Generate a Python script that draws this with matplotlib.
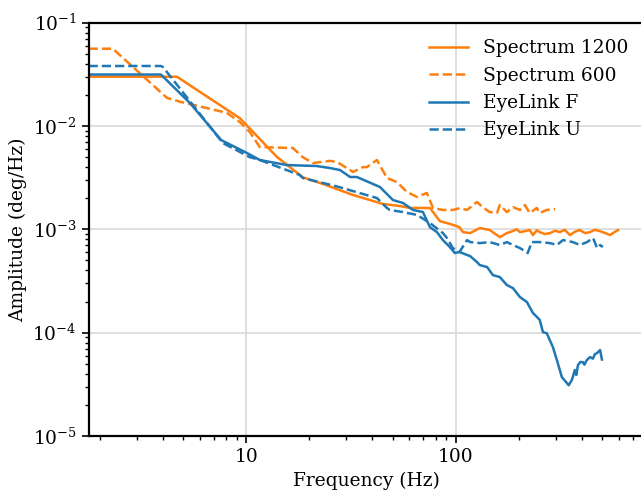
import matplotlib
matplotlib.use('Agg')
import matplotlib.pyplot as plt
from matplotlib.ticker import ScalarFormatter
import numpy as np

# values (Hz, deg/Hz)
spec1200_f = [1.77, 4.67, 9.33, 13.97, 18.6, 23.2, 32.3, 44.9, 54.1, 60.4, 75.2,
              83.9, 93.5, 104, 108, 117, 130, 145, 162, 175, 181, 195, 202, 213,
              225, 233, 243, 251, 266, 281, 297, 313, 330, 350, 370, 390, 412,
              436, 460, 487, 515, 543, 570, 593]
spec1200_a = [3.0e-2, 3.0e-2, 1.19e-2, 5.05e-3, 3.19e-3, 2.75e-3, 2.15e-3, 1.76e-3,
              1.68e-3, 1.61e-3, 1.61e-3, 1.2e-3, 1.13e-3, 1.05e-3, 9.4e-4, 9.2e-4,
              1.03e-3, 9.85e-4, 8.4e-4, 9.2e-4, 9.4e-4, 1.0e-3, 9.4e-4, 9.6e-4,
              9.85e-4, 8.8e-4, 9.8e-4, 9.4e-4, 9.0e-4, 9.2e-4, 9.7e-4, 9.4e-4,
              9.9e-4, 8.8e-4, 9.5e-4, 9.85e-4, 9.2e-4, 9.4e-4, 9.9e-4, 9.6e-4,
              9.2e-4, 8.8e-4, 9.4e-4, 9.85e-4]

spec600_f = [1.77, 2.31, 3.47, 4.19, 4.83, 6.5, 8.09, 9.33, 10.4, 11.6, 16.7,
             18.6, 20.8, 25.1, 27.1, 31.3, 32.3, 36.0, 37.6, 42.0, 46.9, 52.3,
             58.4, 65.2, 72.7, 77.7, 86.7, 96.7, 104, 113, 126, 134, 145, 157,
             162, 175, 187, 202, 213, 225, 243, 251, 271, 297]
spec600_a = [5.6e-2, 5.6e-2, 2.65e-2, 1.87e-2, 1.72e-2, 1.49e-2, 1.34e-2, 1.09e-2,
             8.75e-3, 6.26e-3, 6.12e-3, 5.0e-3, 4.38e-3, 4.6e-3, 4.48e-3, 3.75e-3,
             3.59e-3, 4.0e-3, 4.0e-3, 4.69e-3, 3.14e-3, 2.87e-3, 2.3e-3, 2.06e-3,
             2.25e-3, 1.61e-3, 1.54e-3, 1.54e-3, 1.6e-3, 1.54e-3, 1.84e-3, 1.64e-3,
             1.47e-3, 1.44e-3, 1.72e-3, 1.47e-3, 1.64e-3, 1.54e-3, 1.72e-3, 1.44e-3,
             1.61e-3, 1.44e-3, 1.54e-3, 1.57e-3]

eyef_f = [1.77, 3.92, 5.39, 7.6, 10.08, 11.6, 15.6, 21.7, 25.1, 28.0, 31.3, 33.7,
          43.4, 50.1, 55.9, 62.4, 69.6, 75.2, 81.2, 86.7, 93.5, 98.8, 104, 117,
          126, 130, 141, 150, 162, 175, 187, 202, 218, 233, 251, 260, 271, 290,
          303, 320, 338, 345, 357, 362, 369, 375, 382, 392, 403, 410, 420, 436,
          450, 460, 471, 487, 497]
eyef_a = [3.15e-2, 3.15e-2, 1.67e-2, 7.3e-3, 5.48e-3, 4.69e-3, 4.19e-3, 4.1e-3,
          3.92e-3, 3.75e-3, 3.21e-3, 3.21e-3, 2.57e-3, 1.92e-3, 1.8e-3, 1.54e-3,
          1.47e-3, 1.05e-3, 9.4e-4, 7.87e-4, 6.74e-4, 5.9e-4, 6.03e-4, 5.5e-4,
          4.82e-4, 4.51e-4, 4.31e-4, 3.61e-4, 3.45e-4, 2.89e-4, 2.7e-4, 2.21e-4,
          1.98e-4, 1.55e-4, 1.33e-4, 1.01e-4, 9.9e-5, 7.26e-5, 5.43e-5, 3.72e-5,
          3.26e-5, 3.1e-5, 3.48e-5, 3.8e-5, 4.35e-5, 3.9e-5, 4.86e-5, 5.2e-5,
          5.19e-5, 4.9e-5, 5.4e-5, 5.81e-5, 5.6e-5, 6.2e-5, 6.35e-5, 6.79e-5,
          5.5e-5]

eyeu_f = [1.77, 3.92, 4.01, 7.74, 10.4, 11.6, 18.0, 18.6, 27.1, 36.0, 42.0, 46.9,
          48.4, 55.9, 65.2, 75.2, 86.7, 90.6, 96.7, 104, 113, 117, 130, 145, 162,
          175, 187, 202, 220, 230, 251, 281, 303, 324, 361, 390, 422, 451, 471,
          487, 502]
eyeu_a = [3.81e-2, 3.81e-2, 3.72e-2, 6.84e-3, 5.0e-3, 4.69e-3, 3.36e-3, 3.14e-3,
          2.6e-3, 2.2e-3, 2.01e-3, 1.61e-3, 1.54e-3, 1.47e-3, 1.38e-3, 1.15e-3,
          9.2e-4, 8.24e-4, 6.59e-4, 6.03e-4, 7.87e-4, 7.53e-4, 7.36e-4, 7.53e-4,
          7.05e-4, 7.53e-4, 7.05e-4, 6.59e-4, 5.9e-4, 7.53e-4, 7.53e-4, 7.36e-4,
          7.05e-4, 7.87e-4, 7.53e-4, 7.05e-4, 7.53e-4, 8.24e-4, 6.59e-4, 7.05e-4,
          6.74e-4]

plt.rcParams['font.family'] = 'DejaVu Serif'
plt.rcParams['mathtext.fontset'] = 'dejavuserif'
plt.rcParams['font.size'] = 13.4

fig = plt.figure(figsize=(6.41, 4.91), dpi=100)
# axes runs a bit past the right edge of the picture, as in the reference
ax = fig.add_axes([0.1381, 0.1120, 0.8686, 0.8418])

orange = '#ff7f0e'
blue = '#1f77b4'
ax.plot(spec1200_f, spec1200_a, color=orange, lw=1.8, label='Spectrum 1200')
ax.plot(spec600_f, spec600_a, color=orange, lw=1.8, ls='--', label='Spectrum 600')
ax.plot(eyef_f, eyef_a, color=blue, lw=1.8, label='EyeLink F')
ax.plot(eyeu_f, eyeu_a, color=blue, lw=1.8, ls='--', label='EyeLink U')

ax.set_xscale('log')
ax.set_yscale('log')
ax.set_xlim(1.77, 800)
ax.set_ylim(1e-5, 1e-1)
ax.xaxis.set_major_formatter(ScalarFormatter())

ax.grid(True, which='major', color='#d9d9d9', lw=1.2)
ax.set_axisbelow(True)
for s in ax.spines.values():
    s.set_linewidth(1.6)
ax.tick_params(which='major', length=5, width=1.2)
ax.tick_params(which='minor', length=3, width=1.0)

ax.set_xlabel('Frequency (Hz)')
ax.set_ylabel('Amplitude (deg/Hz)')
ax.legend(loc='upper right', frameon=False, handlelength=2.1, labelspacing=0.5)

fig.savefig('out.png', dpi=100)
